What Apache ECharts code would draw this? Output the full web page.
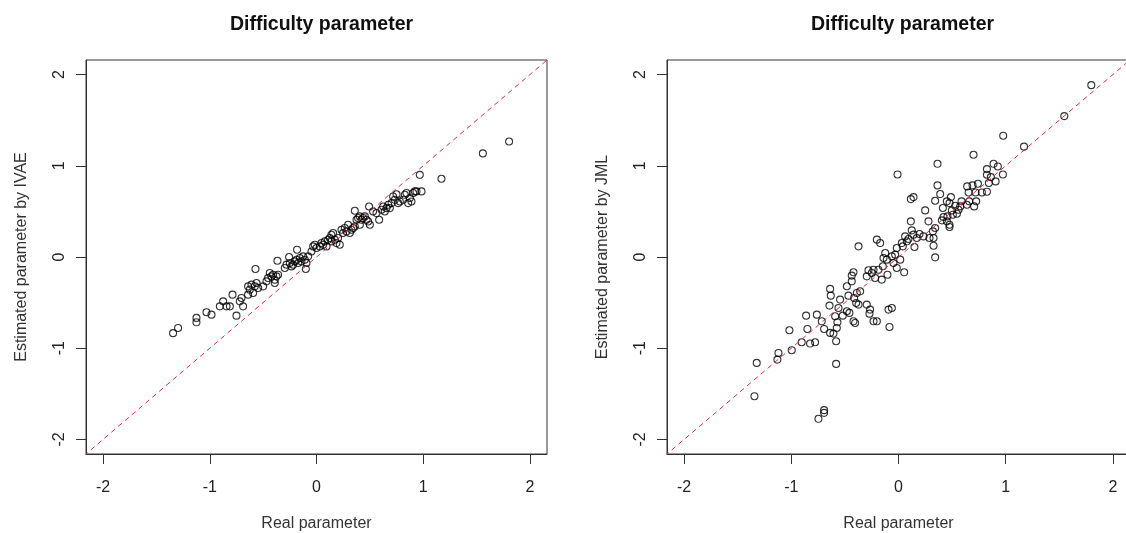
<!DOCTYPE html>
<html>
<head>
<meta charset="utf-8">
<title>Difficulty parameter</title>
<script src="https://cdn.jsdelivr.net/npm/echarts@6/dist/echarts.min.js"></script>
<style>
  html, body { margin: 0; padding: 0; background: #ffffff; }
  #chart { width: 1126px; height: 533px; }
</style>
</head>
<body>
<div id="chart"></div>
<script>
// Real vs. estimated item difficulty, IVAE (left panel)
const ivaeReal = [-1.344,-1.297,-1.125,-1.125,-1.031,-0.984,-0.906,-0.875,-0.843,-0.812,
  -0.787,-0.750,-0.719,-0.703,-0.688,-0.641,-0.625,-0.609,-0.578,-0.562,
  -0.547,-0.594,-0.641,-0.572,-0.500,-0.469,-0.438,-0.422,-0.407,-0.391,
  -0.375,-0.360,-0.391,-0.454,-0.366,-0.297,-0.281,-0.250,-0.234,-0.219,
  -0.203,-0.187,-0.172,-0.156,-0.141,-0.125,-0.109,-0.094,-0.078,-0.100,
  -0.257,-0.182,-0.047,-0.031,-0.016,0.000,0.031,0.047,0.062,0.078,
  0.094,0.109,0.125,0.140,0.156,0.140,0.172,0.187,0.218,0.202,
  0.234,0.249,0.265,0.281,0.296,0.312,0.328,0.343,0.359,0.359,
  0.375,0.390,0.406,0.422,0.437,0.453,0.469,0.484,0.500,0.406,
  0.493,0.530,0.562,0.587,0.609,0.625,0.640,0.656,0.672,0.687,
  0.703,0.718,0.734,0.750,0.765,0.781,0.812,0.828,0.843,0.859,
  0.875,0.890,0.906,0.922,0.937,0.984,0.968,1.171,1.559,1.805];
const ivaeEst = [-0.835,-0.778,-0.668,-0.716,-0.606,-0.632,-0.541,-0.486,-0.541,-0.541,
  -0.413,-0.643,-0.486,-0.449,-0.541,-0.413,-0.358,-0.303,-0.322,-0.285,
  -0.340,-0.394,-0.322,-0.132,-0.322,-0.267,-0.175,-0.212,-0.194,-0.249,
  -0.212,-0.194,-0.285,-0.230,-0.041,-0.120,-0.084,-0.066,-0.103,-0.084,
  -0.048,-0.030,-0.066,-0.011,-0.048,0.007,-0.030,-0.066,0.007,-0.131,
  0.000,0.080,0.061,0.116,0.135,0.099,0.116,0.153,0.135,0.171,
  0.116,0.189,0.208,0.244,0.263,0.171,0.189,0.153,0.135,0.208,
  0.299,0.263,0.318,0.280,0.354,0.263,0.299,0.318,0.335,0.507,
  0.408,0.427,0.445,0.408,0.427,0.445,0.408,0.390,0.354,0.354,
  0.554,0.499,0.482,0.408,0.518,0.554,0.499,0.536,0.573,0.536,
  0.591,0.664,0.627,0.688,0.591,0.609,0.627,0.682,0.701,0.591,
  0.646,0.609,0.701,0.719,0.719,0.719,0.901,0.858,1.136,1.266];

// Real vs. estimated item difficulty, JML (right panel)
const jmlReal = [0.700,0.364,-0.009,0.887,0.927,0.825,0.974,0.825,0.862,0.906,
  0.843,0.778,0.825,0.741,0.691,0.641,0.654,0.719,0.725,0.660,
  0.706,0.638,0.588,0.576,0.529,0.489,0.451,0.476,0.498,0.560,
  0.545,0.507,0.457,0.420,0.405,0.451,0.476,0.476,0.414,0.389,
  0.342,0.364,0.249,0.280,0.321,0.342,0.327,0.327,0.342,0.289,
  0.233,0.196,0.171,0.140,0.124,0.115,0.115,0.140,0.093,0.078,
  0.040,0.149,0.062,0.031,-0.016,-0.031,-0.062,-0.047,-0.109,-0.140,
  -0.146,-0.124,-0.202,-0.171,-0.187,-0.233,-0.249,-0.280,-0.296,-0.218,
  -0.156,-0.103,-0.016,0.053,0.016,-0.373,-0.420,-0.436,-0.482,-0.436,
  -0.358,-0.389,-0.414,-0.395,-0.373,-0.467,-0.545,-0.560,-0.638,-0.632,
  -0.644,-0.591,-0.570,-0.576,-0.607,-0.638,-0.694,-0.716,-0.762,-0.862,
  -0.850,-0.903,-0.825,-0.778,-0.582,-0.482,-0.458,-0.420,-0.405,-0.296,
  -0.265,-0.271,-0.233,-0.202,-0.093,-0.062,-0.084,-0.520,-1.018,-0.996,
  -1.120,-1.130,-1.323,-0.582,-1.344,-0.694,-0.694,-0.747,
  0.977,1.171,1.547,1.799];
const jmlEst = [1.121,1.022,0.905,1.022,0.993,0.964,0.905,0.902,0.876,0.829,
  0.811,0.708,0.716,0.803,0.785,0.774,0.708,0.708,0.610,0.610,
  0.555,0.573,0.610,0.555,0.562,0.657,0.610,0.591,0.511,0.518,
  0.475,0.464,0.445,0.438,0.402,0.391,0.354,0.329,0.537,0.690,
  0.617,0.785,0.511,0.391,0.281,0.318,0.208,0.124,-0.004,0.208,
  0.226,0.252,0.208,0.245,0.292,0.391,0.635,0.657,0.197,0.172,
  0.117,0.110,0.226,0.153,0.099,0.026,0.007,-0.066,-0.029,-0.011,
  -0.102,0.044,0.190,0.153,-0.139,-0.139,-0.175,-0.146,-0.212,-0.230,
  -0.248,-0.194,-0.120,-0.168,-0.029,0.117,-0.168,-0.204,-0.321,-0.267,
  -0.376,-0.394,-0.449,-0.504,-0.522,-0.424,-0.467,-0.559,-0.350,-0.424,
  -0.533,-0.650,-0.716,-0.778,-0.840,-0.832,-0.789,-0.705,-0.632,-0.643,
  -0.789,-0.935,-0.949,-0.935,-0.924,-0.595,-0.613,-0.705,-0.723,-0.522,
  -0.577,-0.621,-0.705,-0.705,-0.577,-0.559,-0.767,-0.643,-0.803,-1.022,
  -1.052,-1.125,-1.161,-1.172,-1.526,-1.679,-1.709,-1.774,
  1.330,1.210,1.545,1.884];

// Shared axis settings
const tickValues = [-2, -1, 0, 1, 2];
const axisRange = [-2.16, 2.16];
const identityEnds = [-2.5, 2.5];   // y = x reference line, clipped to the plot box
const panelTitles = ['Difficulty parameter', 'Difficulty parameter'];
const xAxisTitle = 'Real parameter';
const yAxisTitles = ['Estimated parameter by IVAE', 'Estimated parameter by JML'];

const FONT = '"Liberation Sans", Arial, Helvetica, sans-serif';
const INK = '#333';
const zip = (xs, ys) => xs.map((x, i) => [x, ys[i]]);

const grids = [
  { left: 86, top: 60, width: 461, height: 394 },
  { left: 667, top: 60, width: 463, height: 394 }
];

// Axes 0 and 1 carry the data scales. Axes 2 and 3 are hidden 0..1 anchors whose
// zero lies on the bottom/left edge of each box, so the visible axes (and their
// outward ticks) sit on the box edge.
function mainAxis(gridIndex, anchorIndex) {
  return {
    type: 'value', gridIndex, min: axisRange[0], max: axisRange[1],
    nameLocation: 'middle',
    nameTextStyle: { fontFamily: FONT, fontSize: 16, color: INK },
    axisLine: { show: true, onZero: true, onZeroAxisIndex: anchorIndex,
      lineStyle: { color: INK, width: 1 } },
    axisTick: { show: true, inside: false, length: 10, customValues: tickValues,
      lineStyle: { color: INK, width: 1 } },
    splitLine: { show: false }
  };
}
function anchorAxis(gridIndex) {
  return { type: 'value', gridIndex, min: 0, max: 1, show: false };
}
function makeXAxis(gridIndex) {
  return Object.assign(mainAxis(gridIndex, gridIndex + 2), {
    name: xAxisTitle, nameGap: 62,
    axisLabel: { customValues: tickValues, margin: 26, fontFamily: FONT, fontSize: 16, color: '#222' }
  });
}
function makeYAxis(gridIndex) {
  return Object.assign(mainAxis(gridIndex, gridIndex + 2), {
    name: yAxisTitles[gridIndex], nameGap: 56,
    axisLabel: { customValues: tickValues, margin: 18, rotate: 90, fontFamily: FONT, fontSize: 16, color: '#222' }
  });
}

function pointSeries(gridIndex, xs, ys) {
  return {
    type: 'scatter', xAxisIndex: gridIndex, yAxisIndex: gridIndex,
    data: zip(xs, ys), symbol: 'circle', symbolSize: 7, z: 2,
    itemStyle: { color: 'rgba(0,0,0,0)', borderColor: '#000', borderWidth: 1.1 },
    emphasis: { disabled: true }, silent: true
  };
}
function identitySeries(gridIndex) {
  return {
    type: 'line', xAxisIndex: gridIndex, yAxisIndex: gridIndex,
    data: identityEnds.map(v => [v, v]), showSymbol: false, symbol: 'none', clip: true, z: 3,
    lineStyle: { color: '#d6323c', width: 1, type: [5, 4] }, silent: true
  };
}

const chart = echarts.init(document.getElementById('chart'), null, { renderer: 'canvas' });
chart.setOption({
  animation: false,
  backgroundColor: '#ffffff',
  title: panelTitles.map((t, i) => ({
    text: t, left: grids[i].left + grids[i].width / 2 - (i === 1 ? 1 : 0), top: 10, textAlign: 'center',
    textStyle: { fontFamily: FONT, fontSize: 19.5, fontWeight: 'bold', color: '#111' }
  })),
  // Fixed plot boxes: the right box runs slightly past the canvas edge
  grid: grids.map(g => Object.assign({ show: true, borderColor: INK, borderWidth: 1,
    outerBoundsMode: 'none' }, g)),
  xAxis: [makeXAxis(0), makeXAxis(1), anchorAxis(0), anchorAxis(1)],
  yAxis: [makeYAxis(0), makeYAxis(1), anchorAxis(0), anchorAxis(1)],
  series: [
    pointSeries(0, ivaeReal, ivaeEst),
    identitySeries(0),
    pointSeries(1, jmlReal, jmlEst),
    identitySeries(1)
  ]
});
</script>
</body>
</html>
